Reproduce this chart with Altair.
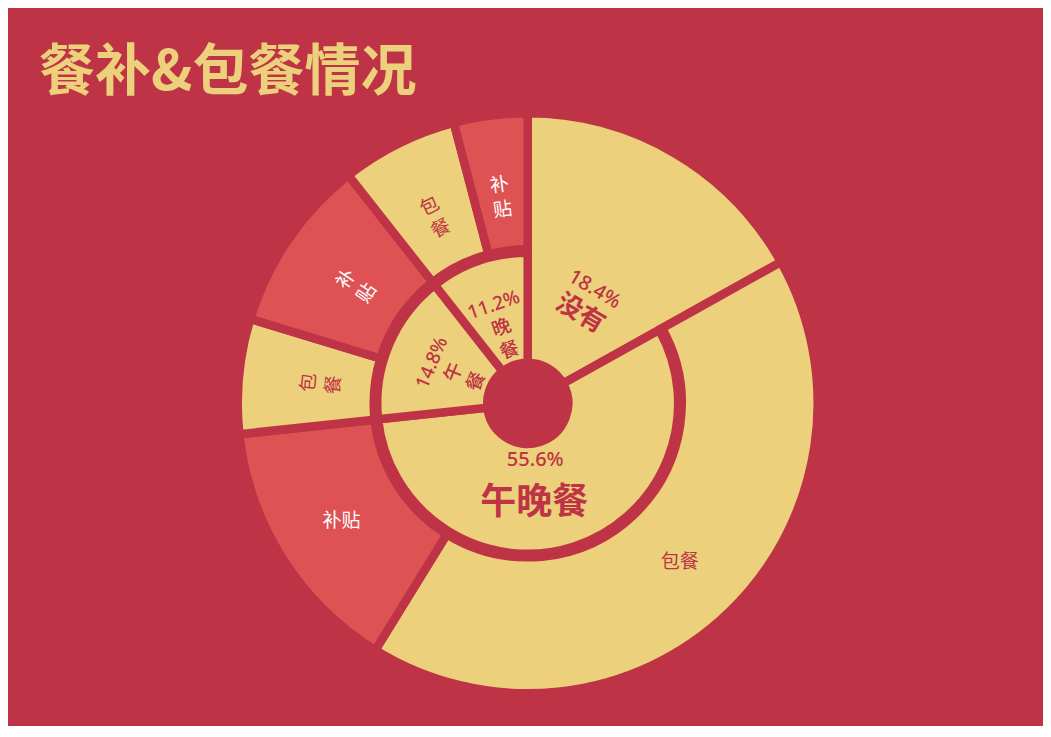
import math
import altair as alt
import pandas as pd

TITLE = "餐补&包餐情况"

# inner ring (share of the circle) and printed labels
inner_cats = ["没有", "午晚餐", "午餐", "晚餐"]
inner_share = [16.9, 56.4, 16.1, 10.6]
inner_pct = ["18.4%", "55.6%", "14.8%", "11.2%"]

# outer ring
outer_parent = ["午晚餐", "午晚餐", "午餐", "午餐", "晚餐", "晚餐"]
outer_sub = ["包餐", "补贴", "包餐", "补贴", "包餐", "补贴"]
outer_share = [41.9, 14.5, 6.4, 9.7, 6.5, 4.1]

BG = "#BE3446"
YEL = "#ECD07B"
RED = "#DE5253"
CJK = "Noto Sans CJK SC"
LAT = "Noto Sans, Noto Sans CJK SC"

inner = pd.DataFrame({"idx": list(range(len(inner_cats))), "cat": inner_cats,
                      "value": inner_share, "pct": inner_pct})
outer = pd.DataFrame({"idx": list(range(len(outer_sub) + 1)),
                      "parent": [inner_cats[0]] + outer_parent,
                      "sub": [inner_cats[0]] + outer_sub,
                      "value": [inner_share[0]] + outer_share})

TS = alt.Scale(domain=[0, 100], range=[0, 2 * math.pi])
CX, CY = 519.7, 395.3
SW = 8.5


def polar(df):
    return (alt.Chart(df)
            .transform_window(cum="sum(value)", sort=[alt.SortField("idx")], frame=[None, 0])
            .transform_calculate(start="datum.cum - datum.value",
                                 mid="datum.cum - datum.value / 2")
            .transform_calculate(deg="datum.mid * 3.6")
            .transform_calculate(rot="(datum.deg > 90 && datum.deg < 270) ? 0 : datum.deg"))


arc_enc = dict(theta=alt.Theta("start:Q", scale=TS, stack=None),
               theta2=alt.Theta2("cum:Q"),
               x=alt.value(CX), y=alt.value(CY))
txt_enc = dict(theta=alt.Theta("mid:Q", scale=TS, stack=None),
               angle=alt.Angle("rot:Q", scale=None),
               x=alt.value(CX), y=alt.value(CY))

none_arc = polar(inner).transform_filter("datum.idx == 0").mark_arc(
    radius=290, radius2=40.5, stroke=BG, strokeWidth=SW, color=YEL).encode(**arc_enc)
inner_arc = polar(inner).transform_filter("datum.idx > 0").mark_arc(
    radius=150.5, radius2=40.5, stroke=BG, strokeWidth=SW, color=YEL).encode(**arc_enc)
outer_arc = polar(outer).transform_filter("datum.idx > 0").mark_arc(
    radius=290, radius2=154, stroke=BG, strokeWidth=SW).encode(
    color=alt.condition("datum.sub == '补贴'", alt.value(RED), alt.value(YEL)), **arc_enc)

none_pct = polar(inner).transform_filter("datum.idx == 0").mark_text(
    radius=117, dy=-15, fontSize=20, fontWeight=500, font=LAT, color=BG,
    align="center", baseline="middle"
).encode(text="pct:N", **txt_enc)
none_name = polar(inner).transform_filter("datum.idx == 0").mark_text(
    radius=117, dy=13, fontSize=26, fontWeight="bold", font=CJK, color=BG,
    align="center", baseline="middle"
).encode(text="cat:N", **txt_enc)

big_pct = polar(inner).transform_filter("datum.idx == 1").mark_text(
    radius=81, dx=-17, dy=-20, fontSize=20, fontWeight=500, font=LAT, color=BG,
    align="center", baseline="middle"
).encode(text="pct:N", **txt_enc)
big_name = polar(inner).transform_filter("datum.idx == 1").mark_text(
    radius=81, dx=-18, dy=23, fontSize=36, fontWeight="bold", font=CJK, color=BG,
    align="center", baseline="middle"
).encode(text="cat:N", **txt_enc)

small_lbl = polar(inner).transform_filter("datum.idx > 1").transform_calculate(
    lbl="split(datum.pct + '|' + join(split(datum.cat, ''), '|'), '|')"
).mark_text(
    radius=104, fontSize=19, lineHeight=24, fontWeight=500, font=LAT, color=BG,
    align="center", baseline="middle"
).encode(text="lbl:N", **txt_enc)

outer_lbl = polar(outer).transform_filter("datum.idx > 0").transform_calculate(
    lbl="datum.rot == 0 ? datum.sub : split(datum.sub, '')"
).mark_text(
    radius=220, fontSize=19, lineHeight=25, font=CJK, align="center", baseline="middle"
).encode(text="lbl:N",
         color=alt.condition("datum.sub == '补贴'", alt.value("white"), alt.value(BG)),
         **txt_enc)

title = alt.Chart(pd.DataFrame({"t": [TITLE]})).mark_text(
    fontSize=56, fontWeight="bold", font=CJK, color=YEL, align="left", baseline="alphabetic"
).encode(text="t:N", x=alt.value(31), y=alt.value(82))

chart = alt.layer(
    none_arc, inner_arc, outer_arc,
    none_pct, none_name, big_pct, big_name, small_lbl, outer_lbl, title
).properties(
    width=1035, height=718, background=BG, padding=0,
    autosize=alt.AutoSizeParams(type="none")
).configure_view(strokeWidth=0)

chart.save("out.html", embed_options={"renderer": "svg", "actions": False})
